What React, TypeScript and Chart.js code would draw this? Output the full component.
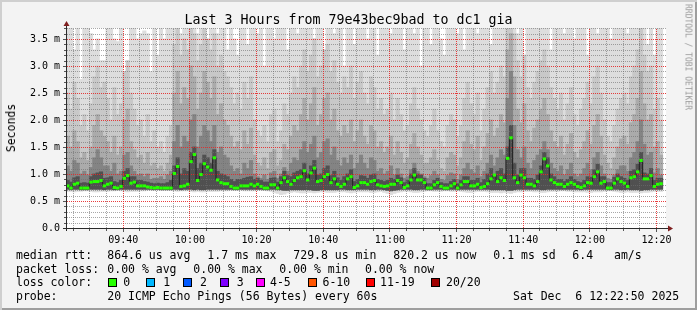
import React, { useEffect, useRef } from "react";
import { Chart, registerables } from "chart.js";
Chart.register(...registerables);

const FONT = "'DejaVu Sans Mono', monospace";

// ---- time axis ----
const startTime = "09:22:50";
const spanMinutes = 180;
const xTickLabels = ["09:40", "10:00", "10:20", "10:40", "11:00", "11:20", "11:40", "12:00", "12:20"];

// ---- value axis (milliseconds) ----
const yMax = 3.704;
const yTickValues = [0, 0.5, 1, 1.5, 2, 2.5, 3, 3.5];
const yTickLabels = ["0.0", "0.5 m", "1.0 m", "1.5 m", "2.0 m", "2.5 m", "3.0 m", "3.5 m"];

// ---- median rtt per minute (ms) ----
const medianRtt = [
  0.78, 0.74, 0.81, 0.83, 0.74, 0.74, 0.74, 0.85, 0.86, 0.86,
  0.88, 0.78, 0.81, 0.83, 0.75, 0.74, 0.77, 0.92, 0.97, 0.83,
  0.85, 0.78, 0.78, 0.78, 0.76, 0.75, 0.74, 0.75, 0.74, 0.74,
  0.74, 0.74, 1.01, 1.14, 0.77, 0.78, 0.81, 1.23, 1.36, 0.88,
  0.99, 1.19, 1.13, 1.07, 1.30, 0.89, 0.84, 0.82, 0.82, 0.77,
  0.74, 0.74, 0.78, 0.78, 0.78, 0.81, 0.78, 0.81, 0.77, 0.74,
  0.74, 0.80, 0.80, 0.74, 0.84, 0.93, 0.86, 0.81, 0.88, 0.93,
  0.95, 1.06, 0.89, 1.02, 1.11, 0.86, 0.88, 0.95, 0.99, 0.84,
  0.91, 0.81, 0.77, 0.81, 0.91, 0.95, 0.75, 0.78, 0.84, 0.84,
  0.81, 0.86, 0.88, 0.80, 0.78, 0.77, 0.78, 0.81, 0.81, 0.88,
  0.84, 0.75, 0.78, 0.89, 0.98, 0.89, 0.89, 0.84, 0.74, 0.74,
  0.80, 0.84, 0.77, 0.74, 0.74, 0.78, 0.82, 0.74, 0.80, 0.86,
  0.86, 0.78, 0.78, 0.81, 0.75, 0.77, 0.82, 0.91, 0.98, 0.86,
  0.93, 0.88, 1.29, 1.67, 0.93, 0.84, 0.98, 0.93, 0.81, 0.81,
  0.78, 0.86, 1.04, 1.28, 1.15, 0.89, 0.84, 0.81, 0.81, 0.77,
  0.81, 0.84, 0.81, 0.77, 0.75, 0.78, 0.84, 0.83, 0.95, 1.04,
  0.83, 0.86, 0.74, 0.74, 0.83, 0.91, 0.86, 0.83, 0.77, 0.93,
  0.95, 1.04, 1.25, 0.91, 0.91, 0.97, 0.77, 0.81, 0.82,
];

// ---- smoke: lowest ping per minute ----
const smokeMin = [
  .68, .68, .67, .68, .68, .69, .69, .68, .67, .67,
  .68, .68, .68, .69, .69, .70, .69, .68, .67, .68,
  .68, .68, .69, .69, .70, .70, .70, .70, .70, .70,
  .70, .70, .69, .68, .69, .69, .69, .68, .67, .68,
  .67, .67, .68, .68, .68, .68, .69, .69, .69, .70,
  .70, .70, .70, .69, .69, .69, .69, .70, .70, .70,
  .69, .68, .66, .64, .62, .63, .65, .66, .67, .66,
  .65, .65, .66, .66, .65, .66, .67, .67, .66, .66,
  .66, .67, .67, .67, .66, .65, .66, .67, .67, .67,
  .67, .66, .66, .67, .68, .66, .64, .62, .64, .66,
  .67, .68, .68, .67, .66, .66, .67, .68, .69, .69,
  .68, .68, .68, .69, .69, .68, .68, .69, .68, .67,
  .66, .66, .67, .68, .68, .68, .67, .66, .66, .66,
  .65, .66, .65, .64, .66, .67, .67, .68, .68, .68,
  .67, .67, .66, .66, .67, .68, .68, .68, .69, .69,
  .68, .68, .67, .67, .67, .67, .66, .66, .67, .67,
  .67, .68, .69, .69, .68, .67, .66, .66, .67, .66,
  .66, .66, .65, .66, .66, .67, .68, .68, .68,
];

// ---- smoke: lower inner edge ----
const smokeLow = [
  .72, .71, .72, .72, .71, .71, .71, .72, .72, .72,
  .72, .71, .72, .72, .71, .71, .72, .72, .72, .72,
  .72, .72, .72, .72, .72, .72, .71, .72, .71, .71,
  .71, .71, .72, .72, .71, .72, .72, .72, .71, .72,
  .71, .71, .72, .72, .72, .72, .72, .72, .72, .72,
  .71, .71, .72, .72, .72, .72, .72, .72, .72, .71,
  .71, .72, .72, .71, .71, .70, .70, .71, .71, .71,
  .71, .71, .71, .71, .70, .70, .71, .71, .71, .71,
  .71, .71, .72, .72, .71, .71, .71, .72, .72, .72,
  .72, .71, .71, .72, .72, .71, .70, .69, .70, .71,
  .72, .72, .72, .72, .71, .71, .72, .72, .71, .71,
  .72, .72, .72, .71, .71, .72, .72, .71, .72, .72,
  .72, .72, .72, .72, .72, .72, .72, .71, .71, .71,
  .71, .71, .70, .70, .71, .72, .72, .72, .72, .72,
  .72, .72, .71, .71, .72, .72, .72, .72, .72, .72,
  .72, .72, .72, .72, .71, .72, .72, .72, .72, .72,
  .72, .72, .71, .71, .72, .72, .71, .71, .72, .71,
  .71, .71, .70, .71, .71, .72, .72, .72, .72,
];

// ---- smoke: darkest core top ----
const smokeCore = [
  .88, .85, .93, .95, .83, .84, .83, .95,
  1.0, 1.02, 1.04, .92, .93, .95, .86, .84, .88,
  1.05, 1.1, .95, .95, .88, .88, .86, .85, .83, .82,
  .83, .82, .82, .84, .88,
  1.15, 1.3, 1.0, 1.1, 1.05, 1.4, 1.5, 1.1, 1.2, 1.35, 1.3, 1.2, 1.45, 1.05, 1.0, .98, .95,
  .9, .86, .9, .9, .92, .94, .95,
  .9, .92, .88, .85, .85, .92, .93,
  .85, .95, 1.05, .97, .95, 1.02, 1.05,
  1.08, 1.2, 1.0, 1.15, 1.25, .98, 1.0, 1.1, 1.15, .97, 1.05, .93,
  .88, .95, 1.0, 1.08, .86, .9, .97, .96, .92, .98, 1.0, .9, .88, .86,
  .88, .92, .9, .98, .93, .84, .88, 1.0, 1.1, 1.0, .98, .92,
  .82, .82, .88, .92, .84, .82, .82, .86, .9, .82, .88,
  .95, .95, .88, .88, .92, .84, .9, 1.0, 1.1, .98, 1.05, 1.1, 1.0,
  1.5, 1.9, 1.2,
  .98, 1.1, 1.1, .92, .92, .9, .98, 1.15,
  1.4, 1.3, 1.0,
  .95, .9, .9, .86, .9, .95, .9, .86, .84, .88, .95, .94, 1.08, 1.18, .95,
  .95, .84, .84, .94, 1.0, .95,
  .92, .88, 1.05, 1.08, 1.18, 1.4, 1.02, 1.0, 1.1,
  .88, .92, .92,
];

// ---- smoke: dark band top ----
const smokeInner = [
  1.15, 1.05, 1.25, 1.2, 1.0, 1.05, .98, 1.12,
  1.3, 1.45, 1.3, 1.15, 1.15, 1.05, 1.2, 1.0, 1.05,
  1.35, 1.4, 1.15, 1.05, .98, 1.0, .95, 1.0, .9, .92,
  .92, .95, .9, .98, 1.05,
  1.6, 1.9, 1.5, 1.7, 1.6, 2.0, 2.1, 1.5, 1.7, 1.9, 1.8, 1.6, 1.9, 1.4, 1.5, 1.35, 1.3,
  1.15, 1.05, 1.1, 1.0, 1.2, 1.1, 1.25,
  1.0, .95, .92, .98, .9, 1.02, 1.05,
  .92, 1.0, 1.12, 1.05, 1.2, 1.3, 1.25,
  1.45, 1.6, 1.4, 1.55, 1.7, 1.3, 1.4, 1.6, 1.65, 1.35, 1.5, 1.25,
  1.15, 1.3, 1.2, 1.35, 1.1, 1.2, 1.35, 1.2, 1.1, 1.3, 1.25, 1.05, 1.1, 1.0,
  1.05, 1.15, .98, 1.1, 1.0, .92, .95, 1.08, 1.2, 1.05, 1.0, .95,
  .92, .97, 1.05, .98, .9, .88, .97, 1.02, 1.0, .9, .98,
  1.1, 1.2, 1.08, 1.02, 1.15, .95, 1.05, 1.2, 1.35, 1.15, 1.3, 1.45, 1.35,
  2.4, 2.9, 1.9,
  1.45, 1.3, 1.5, 1.2, 1.1, 1.25, 1.35, 1.45,
  1.6, 1.45, 1.2,
  1.1, 1.05, 1.15, .98, 1.08, 1.2, 1.0, .95, 1.0, 1.1, 1.2, 1.08, 1.3, 1.4, 1.15,
  1.0, .92, .9, .98, 1.08, 1.15,
  1.15, 1.05, 1.3, 1.4, 1.6, 2.0, 1.55, 1.35, 1.4,
  1.02, 1.1, .98,
];

// ---- smoke: medium band top ----
const smokeMid = [
  1.7, 1.5, 1.8, 1.6, 1.3, 1.4, 1.25, 1.5,
  1.9, 2.1, 1.8, 1.7, 1.6, 1.4, 1.7, 1.35, 1.5,
  2.0, 2.2, 1.6, 1.45, 1.3, 1.35, 1.2, 1.4, 1.15, 1.2,
  1.1, 1.15, 1.05, 1.2, 1.35,
  2.5, 2.9, 2.3, 2.6, 2.4, 3.0, 2.8, 2.2, 2.5, 2.9, 2.7, 2.4, 2.8, 2.1, 2.3, 2.0, 1.9,
  1.7, 1.5, 1.6, 1.45, 1.8, 1.55, 1.85,
  1.35, 1.2, 1.15, 1.3, 1.1, 1.4, 1.45,
  1.15, 1.25, 1.55, 1.45, 1.7, 1.9, 1.8,
  2.1, 2.4, 2.0, 2.3, 2.6, 1.9, 2.1, 2.4, 2.5, 2.0, 2.2, 1.8,
  1.7, 1.9, 1.75, 2.0, 1.6, 1.8, 2.0, 1.7, 1.55, 1.9, 1.8, 1.5, 1.6, 1.4,
  1.5, 1.7, 1.35, 1.6, 1.4, 1.2, 1.3, 1.55, 1.75, 1.5, 1.35, 1.2,
  1.2, 1.3, 1.45, 1.25, 1.1, 1.05, 1.3, 1.4, 1.35, 1.15, 1.3,
  1.6, 1.8, 1.55, 1.45, 1.7, 1.25, 1.5, 1.75, 2.0, 1.7, 1.85, 2.1, 1.95,
  3.3, 3.6, 2.8,
  2.2, 1.95, 2.3, 1.8, 1.6, 1.85, 2.0, 2.2,
  2.4, 2.1, 1.8,
  1.6, 1.5, 1.7, 1.35, 1.55, 1.75, 1.4, 1.3, 1.45, 1.6, 1.8, 1.55, 1.9, 2.1, 1.7,
  1.35, 1.2, 1.1, 1.3, 1.5, 1.65,
  1.7, 1.55, 1.95, 2.1, 2.4, 2.9, 2.3, 2.0, 2.1,
  1.5, 1.6, 1.35,
];

// ---- smoke: light band top ----
const smokeOuter = [
  2.5, 2.2, 2.7, 2.4, 1.9, 2.1, 1.8, 2.3,
  2.8, 3.0, 2.6, 2.7, 2.4, 2.0, 2.6, 2.1, 2.3,
  2.9, 3.1, 2.5, 2.2, 1.9, 2.0, 1.7, 2.1, 1.6, 1.8,
  1.5, 1.6, 1.4, 1.7, 1.9,
  3.4, 3.7, 3.2, 3.5, 3.3, 3.8, 3.6, 3.1, 3.4, 3.7, 3.5, 3.3, 3.6, 3.0, 3.2, 2.9, 2.8,
  2.6, 2.3, 2.5, 2.2, 2.7, 2.4, 2.8,
  2.0, 1.8, 1.7, 1.9, 1.6, 2.1, 2.2,
  1.6, 1.8, 2.3, 2.1, 2.5, 2.8, 2.6,
  3.0, 3.3, 2.9, 3.2, 3.5, 2.8, 3.0, 3.3, 3.4, 2.9, 3.1, 2.7,
  2.5, 2.8, 2.6, 3.0, 2.4, 2.7, 2.9, 2.5, 2.3, 2.8, 2.6, 2.2, 2.4, 2.1,
  2.2, 2.5, 2.0, 2.4, 2.1, 1.8, 1.9, 2.3, 2.6, 2.2, 2.0, 1.8,
  1.7, 1.9, 2.2, 1.8, 1.6, 1.5, 1.9, 2.1, 2.0, 1.7, 1.9,
  2.4, 2.7, 2.3, 2.1, 2.5, 1.8, 2.2, 2.6, 2.9, 2.5, 2.7, 3.0, 2.8,
  3.8, 3.8, 3.6,
  3.1, 2.8, 3.2, 2.6, 2.4, 2.7, 2.9, 3.1,
  3.3, 3.0, 2.6,
  2.4, 2.2, 2.5, 2.0, 2.3, 2.6, 2.1, 1.9, 2.2, 2.4, 2.7, 2.3, 2.8, 3.0, 2.5,
  2.0, 1.7, 1.6, 1.9, 2.2, 2.4,
  2.5, 2.3, 2.8, 3.0, 3.3, 3.7, 3.2, 2.9, 3.0,
  2.2, 2.4, 2.0,
];

// ---- smoke: highest ping per minute ----
const smokeMax = [
  3.8, 3.8, 3.3, 3.8, 2.75, 3.8, 3.8, 3.6, 3.3, 3.5,
  3.1, 3.1, 3.8, 3.8, 3.5, 3.45, 3.8, 2.8, 2.8, 3.8,
  3.8, 3.5, 3.6, 3.65, 3.6, 2.9, 3.8, 3.2, 3.8, 3.5,
  3.8, 3.8, 3.8, 3.8, 3.6, 3.8, 3.8, 3.8, 3.8, 3.6,
  3.8, 3.8, 3.4, 3.8, 3.8, 3.6, 3.8, 3.8, 3.3, 3.8,
  3.5, 3.2, 3.8, 3.8, 3.4, 3.8, 3.8, 3.6, 3.8, 3.0,
  3.8, 3.8, 3.5, 3.8, 3.8, 3.8, 3.3, 3.8, 3.8, 3.6,
  3.8, 3.8, 3.8, 3.8, 3.5, 3.8, 3.8, 3.2, 3.8, 3.8,
  3.6, 3.8, 3.8, 3.0, 3.8, 3.8, 3.4, 3.8, 3.8, 3.8,
  3.5, 3.8, 3.8, 3.2, 3.8, 3.8, 3.8, 3.6, 3.8, 3.8,
  3.8, 3.3, 3.8, 3.8, 3.6, 3.8, 3.0, 3.8, 3.8, 3.4,
  3.8, 3.8, 3.5, 3.2, 3.8, 3.8, 3.8, 3.6, 3.8, 3.3,
  3.8, 3.8, 3.8, 3.6, 3.8, 3.8, 3.8, 3.4, 3.8, 3.8,
  3.8, 3.8, 3.8, 3.8, 3.8, 3.6, 3.8, 3.2, 3.8, 3.8,
  3.8, 3.8, 3.7, 3.8, 3.8, 3.3, 3.8, 3.8, 3.8, 3.6,
  3.8, 3.8, 3.5, 3.8, 3.8, 3.8, 3.2, 3.8, 3.8, 3.6,
  3.8, 3.8, 3.8, 3.5, 3.8, 3.8, 3.8, 3.8, 3.6, 3.8,
  3.8, 3.8, 3.8, 3.8, 3.4, 3.8, 3.2, 3.8, 3.8,
];

// ---- legend texts ----
const rttStats = ["864.6 us avg", "1.7 ms max", "729.8 us min", "820.2 us now", "0.1 ms sd", "6.4", "am/s"];
const lossStats = ["0.00 % avg", "0.00 % max", "0.00 % min", "0.00 % now"];
const lossLabels = ["0", "1", "2", "3", "4-5", "6-10", "11-19", "20/20"];
const lossColors = ["#26ff00", "#00b8ff", "#0059ff", "#7e00ff", "#ff00ff", "#ff5500", "#ff0000", "#a00000"];
const titleText = "Last 3 Hours from 79e43bec9bad to dc1 gia";
const probeText = "20 ICMP Echo Pings (56 Bytes) every 60s";
const dateText = "Sat Dec  6 12:22:50 2025";

// layout (pixels)
const rttX = [107.3, 207.3, 293.3, 393.3, 493.3, 572.3, 614];
const lossX = [107.3, 193.3, 279.3, 365];
const swatchX = [108, 145.5, 182.5, 219.5, 256, 307.5, 365.5, 430.5];
const swatchLabelX = [123.3, 163.3, 200, 236.7, 270, 322.5, 380, 446];

const toMin = (s: string) => {
  const p = s.split(":").map(Number);
  return p[0] * 60 + p[1] + (p[2] || 0) / 60;
};
const t0 = toMin(startTime);
const xTickPos = xTickLabels.map((l) => toMin(l) - t0);
const colX = (i: number) => i + 0.5;

const bands = [
  { label: "smoke-core", lo: smokeLow, hi: smokeCore, color: "#505050" },
  { label: "smoke-inner", lo: smokeLow, hi: smokeInner, color: "#848484" },
  { label: "smoke-mid", lo: smokeLow, hi: smokeMid, color: "#ababab" },
  { label: "smoke-outer", lo: smokeLow, hi: smokeOuter, color: "#c8c8c8" },
  { label: "smoke-max", lo: smokeMin, hi: smokeMax, color: "#dddddd" },
];

function fiveMinuteMarks() {
  const out: { m: number; major: boolean }[] = [];
  const first = Math.ceil(t0 / 5 - 1e-9) * 5;
  for (let abs = first; abs <= t0 + spanMinutes + 1e-9; abs += 5) {
    out.push({ m: abs - t0, major: Math.round(abs) % 20 === 0 });
  }
  return out;
}

function drawGrid(chart: any) {
  const { ctx, chartArea: a } = chart;
  const xs = chart.scales.x;
  const ys = chart.scales.y;
  const L = Math.round(a.left);
  const R = Math.round(a.right);
  const T = Math.round(a.top);
  const B = Math.round(a.bottom);
  ctx.save();
  const hdots = (v: number, color: string) => {
    const py = Math.round(ys.getPixelForValue(v));
    if (py < T || py >= B) return;
    ctx.fillStyle = color;
    for (let x = L + 1; x < R; x += 2) ctx.fillRect(x, py, 1, 1);
  };
  const vdots = (m: number, color: string) => {
    const px = Math.floor(xs.getPixelForValue(m));
    if (px <= L || px >= R) return;
    ctx.fillStyle = color;
    for (let y = B - 1; y >= T; y -= 2) ctx.fillRect(px, y, 1, 1);
  };
  const minorC = "rgba(110,110,110,0.6)";
  const majorC = "rgba(230,40,40,0.9)";
  for (let k = 1; k * 0.1 <= yMax; k++) if (k % 5 !== 0) hdots(k * 0.1, minorC);
  const marks = fiveMinuteMarks();
  marks.forEach((mk) => {
    if (!mk.major) vdots(mk.m, minorC);
  });
  for (let k = 1; k * 0.5 <= yMax; k++) hdots(k * 0.5, majorC);
  marks.forEach((mk) => {
    if (mk.major) vdots(mk.m, majorC);
  });
  ctx.restore();
}

function drawAxes(chart: any) {
  const { ctx, chartArea: a } = chart;
  const xs = chart.scales.x;
  const ys = chart.scales.y;
  const ax = a.left + 0.5;
  ctx.save();
  ctx.strokeStyle = "#2b2b2b";
  ctx.lineWidth = 1;
  ctx.beginPath();
  ctx.moveTo(a.left - 3, a.bottom + 0.5);
  ctx.lineTo(a.right + 3, a.bottom + 0.5);
  ctx.moveTo(ax, a.bottom + 3);
  ctx.lineTo(ax, a.top - 3);
  ctx.stroke();
  ctx.strokeStyle = "#555555";
  ctx.beginPath();
  for (let k = 1; k * 0.1 <= yMax; k++) {
    const py = Math.round(ys.getPixelForValue(k * 0.1)) + 0.5;
    const len = k % 5 === 0 ? 3 : 2;
    ctx.moveTo(a.left - len, py);
    ctx.lineTo(a.left, py);
  }
  fiveMinuteMarks().forEach((mk) => {
    const px = Math.floor(xs.getPixelForValue(mk.m)) + 0.5;
    ctx.moveTo(px, a.bottom + 1);
    ctx.lineTo(px, a.bottom + (mk.major ? 4 : 3));
  });
  ctx.stroke();
  ctx.fillStyle = "#7f1f1f";
  ctx.beginPath();
  ctx.moveTo(ax - 3, a.top - 2);
  ctx.lineTo(ax + 3, a.top - 2);
  ctx.lineTo(ax, a.top - 7);
  ctx.closePath();
  ctx.fill();
  ctx.beginPath();
  ctx.moveTo(a.right + 2, a.bottom - 2.5);
  ctx.lineTo(a.right + 2, a.bottom + 3.5);
  ctx.lineTo(a.right + 7, a.bottom + 0.5);
  ctx.closePath();
  ctx.fill();
  ctx.restore();
}

const rrdPlugin = {
  id: "rrdLook",
  beforeDraw(chart: any) {
    const { ctx, chartArea: a } = chart;
    ctx.save();
    ctx.fillStyle = "#ffffff";
    ctx.fillRect(a.left, a.top, a.right - a.left, a.bottom - a.top);
    ctx.restore();
  },
  afterDatasetDraw(chart: any, args: any) {
    if (args.index === 2) drawGrid(chart);
  },
  afterDraw(chart: any) {
    drawAxes(chart);
  },
};

export default function App() {
  const ref = useRef<HTMLCanvasElement>(null);
  useEffect(() => {
    const canvas = ref.current;
    if (!canvas) return;
    const medPts = medianRtt.map((v, i) => ({ x: colX(i), y: v }));
    const datasets: any[] = [
      {
        type: "line",
        label: "median (loss 0)",
        data: medPts,
        showLine: false,
        pointStyle: "line",
        pointRadius: 1.7,
        pointHoverRadius: 1.7,
        pointBorderWidth: 3,
        pointBorderColor: "#26ff00",
        pointBackgroundColor: "#26ff00",
      },
      {
        type: "line",
        label: "median",
        data: medPts,
        stepped: "middle",
        borderColor: "#202020",
        borderWidth: 1,
        pointRadius: 0,
        fill: false,
      },
      ...bands.map((b) => ({
        type: "bar",
        label: b.label,
        data: b.lo.map((v, i) => ({ x: colX(i), y: [v, b.hi[i]] })),
        backgroundColor: b.color,
        borderWidth: 0,
        grouped: false,
        barPercentage: 1,
        categoryPercentage: 1,
        inflateAmount: 0.4,
      })),
    ];
    const chart = new Chart(canvas, {
      type: "bar",
      data: { datasets },
      plugins: [rrdPlugin],
      options: {
        animation: false,
        responsive: false,
        devicePixelRatio: 1,
        events: [],
        layout: { padding: { top: 28, right: 31, left: 0, bottom: 0 } },
        plugins: { legend: { display: false }, tooltip: { enabled: false }, title: { display: false } },
        scales: {
          x: {
            type: "linear",
            min: 0,
            max: spanMinutes,
            offset: false,
            grid: { display: false },
            border: { display: false },
            afterFit: (s: any) => {
              s.height = 82;
            },
            afterBuildTicks: (s: any) => {
              s.ticks = xTickPos.map((v) => ({ value: v }));
            },
            ticks: {
              autoSkip: false,
              maxRotation: 0,
              minRotation: 0,
              padding: -2,
              color: "#000000",
              font: { family: FONT, size: 10 },
              callback: (_v: any, idx: number) => xTickLabels[idx],
            },
          },
          y: {
            type: "linear",
            min: 0,
            max: yMax,
            grid: { display: false, drawTicks: false },
            border: { display: false },
            afterFit: (s: any) => {
              s.width = 66;
            },
            afterBuildTicks: (s: any) => {
              s.ticks = yTickValues.map((v) => ({ value: v }));
            },
            ticks: {
              padding: 6,
              color: "#000000",
              font: { family: FONT, size: 10 },
              callback: (_v: any, idx: number) => yTickLabels[idx],
            },
          },
        },
      } as any,
    } as any);
    return () => chart.destroy();
  }, []);

  const legendFont: React.CSSProperties = {
    position: "absolute",
    fontFamily: FONT,
    fontSize: "11.5px",
    lineHeight: "14px",
    whiteSpace: "pre",
    color: "#000",
  };
  const rowTop = [247.5, 261.5, 275, 289.2];

  return (
    <div
      style={{
        position: "fixed",
        left: 0,
        top: 0,
        width: 697,
        height: 310,
        background: "#f3f3f3",
        boxShadow: "inset 2px 2px 0 #cfcfcf, inset -2px -2px 0 #9e9e9e",
        overflow: "hidden",
      }}
    >
      <canvas ref={ref} width={697} height={310} style={{ position: "absolute", left: 0, top: 0, width: 697, height: 310 }} />
      <div
        style={{
          position: "absolute",
          left: 0,
          top: 11.5,
          width: 697,
          textAlign: "center",
          fontFamily: FONT,
          fontSize: "13.3px",
          lineHeight: "16px",
          whiteSpace: "pre",
          color: "#000",
        }}
      >
        {titleText}
      </div>
      <div
        style={{
          position: "absolute",
          left: 11,
          top: 128,
          transform: "translate(-50%, -50%) rotate(-90deg)",
          fontFamily: FONT,
          fontSize: "11.5px",
          lineHeight: "12px",
          whiteSpace: "pre",
          color: "#000",
        }}
      >
        Seconds
      </div>
      <div
        style={{
          position: "absolute",
          left: 687.5,
          top: 57,
          transform: "translate(-50%, -50%) rotate(90deg)",
          fontFamily: FONT,
          fontSize: "8px",
          lineHeight: "9px",
          whiteSpace: "pre",
          color: "#9c9c9c",
        }}
      >
        RRDTOOL / TOBI OETIKER
      </div>

      <div style={{ ...legendFont, left: 16, top: rowTop[0] }}>median rtt:</div>
      {rttStats.map((t, i) => (
        <div key={"r" + i} style={{ ...legendFont, left: rttX[i], top: rowTop[0] }}>
          {t}
        </div>
      ))}
      <div style={{ ...legendFont, left: 16, top: rowTop[1] }}>packet loss:</div>
      {lossStats.map((t, i) => (
        <div key={"l" + i} style={{ ...legendFont, left: lossX[i], top: rowTop[1] }}>
          {t}
        </div>
      ))}
      <div style={{ ...legendFont, left: 16, top: rowTop[2] }}>loss color:</div>
      {lossLabels.map((t, i) => (
        <React.Fragment key={"c" + i}>
          <div
            style={{
              position: "absolute",
              left: swatchX[i],
              top: 277.5,
              width: 9,
              height: 9,
              boxSizing: "border-box",
              border: "1px solid #000",
              background: lossColors[i],
            }}
          />
          <div style={{ ...legendFont, left: swatchLabelX[i], top: rowTop[2] }}>{t}</div>
        </React.Fragment>
      ))}
      <div style={{ ...legendFont, left: 16, top: rowTop[3] }}>probe:</div>
      <div style={{ ...legendFont, left: 107.3, top: rowTop[3] }}>{probeText}</div>
      <div style={{ ...legendFont, left: 513, top: rowTop[3] }}>{dateText}</div>
    </div>
  );
}
